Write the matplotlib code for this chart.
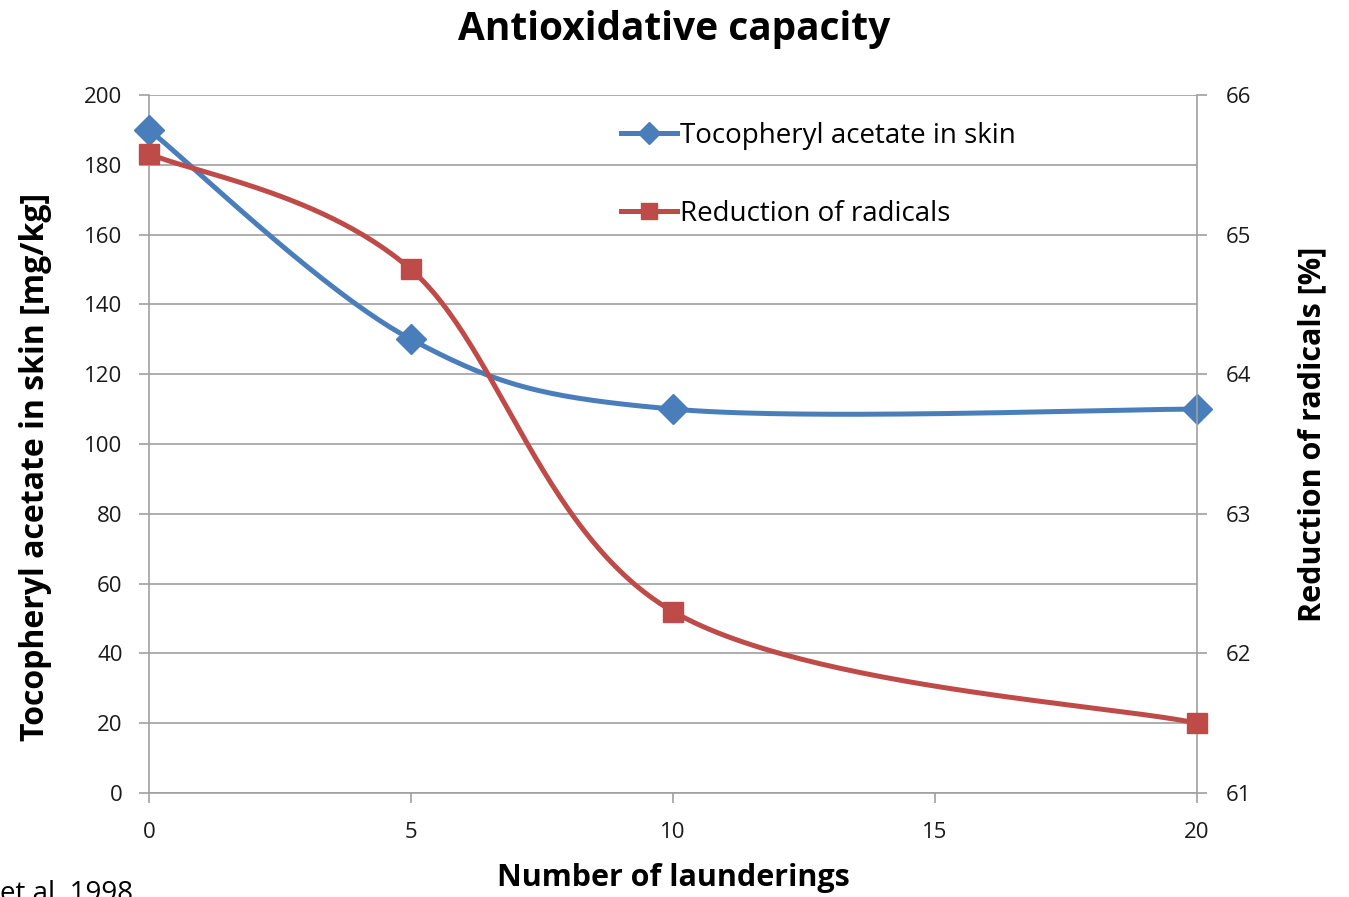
import numpy as np
import matplotlib
matplotlib.use("Agg")
import matplotlib.pyplot as plt

plt.rcParams['font.family'] = ['Open Sans', 'DejaVu Sans']

launderings = [0, 5, 10, 20]
tocopheryl = [190, 130, 110, 110]
reduction = [65.58, 64.75, 62.30, 61.50]

blue = '#4a7ebb'
red = '#be4b48'
grey = '#a0a0a0'


def smooth(x, y, n=60):
    # excel-like smoothed line: cubic bezier with catmull-rom control points
    p = np.column_stack([x, y]).astype(float)
    pts = np.vstack([p[0], p, p[-1]])
    out = []
    for i in range(1, len(pts) - 2):
        p0, p1, p2, p3 = pts[i - 1], pts[i], pts[i + 1], pts[i + 2]
        c1 = p1 + (p2 - p0) / 6
        c2 = p2 - (p3 - p1) / 6
        t = np.linspace(0, 1, n)[:, None]
        seg = ((1 - t) ** 3) * p1 + 3 * ((1 - t) ** 2) * t * c1 + 3 * (1 - t) * t ** 2 * c2 + t ** 3 * p2
        out.append(seg)
    s = np.vstack(out)
    return s[:, 0], s[:, 1]


fig = plt.figure(figsize=(13.49, 8.97), dpi=100)
ax = fig.add_axes([149 / 1349, 1 - 793 / 897, (1197 - 149) / 1349, (793 - 95) / 897])
ax2 = ax.twinx()

ax.set_xlim(0, 20)
ax.set_ylim(0, 200)
ax2.set_ylim(61, 66)
ax.set_yticks(np.arange(0, 201, 20))
ax2.set_yticks(np.arange(61, 67, 1))
ax.set_xticks([0, 5, 10, 15, 20])

ax.grid(axis='y', color=grey, linewidth=1.2)
ax.set_axisbelow(True)
for a in (ax, ax2):
    for side in ('top', 'bottom', 'left', 'right'):
        a.spines[side].set_visible(False)
ax.spines['left'].set_visible(True)
ax.spines['bottom'].set_visible(True)
ax2.spines['right'].set_visible(True)
for sp in (ax.spines['left'], ax.spines['bottom'], ax2.spines['right']):
    sp.set_color(grey)
    sp.set_linewidth(1.2)

for a in (ax, ax2):
    a.tick_params(axis='both', which='both', length=7, width=1.2, color=grey,
                  labelsize=16, labelcolor='#1a1a1a', direction='out')
ax.tick_params(axis='y', pad=12)
ax.tick_params(axis='x', pad=14)
ax2.tick_params(axis='y', pad=14)

sx, sy = smooth(launderings, tocopheryl)
ax.plot(sx, sy, color=blue, linewidth=3.6, zorder=3)
ax.plot(launderings, tocopheryl, linestyle='none', marker='D', markersize=15,
        color=blue, zorder=4, clip_on=False)

rx, ry = smooth(launderings, reduction)
ax2.plot(rx, ry, color=red, linewidth=3.6, zorder=3)
ax2.plot(launderings, reduction, linestyle='none', marker='s', markersize=15,
         color=red, zorder=4, clip_on=False)

# legend proxies
h1, = ax.plot([], [], color=blue, linewidth=3.6, marker='D', markersize=11)
h2, = ax.plot([], [], color=red, linewidth=3.6, marker='s', markersize=11)
ax2.legend([h1, h2], ['Tocopheryl acetate in skin', 'Reduction of radicals'],
           loc='upper left', bbox_to_anchor=(0.44, 0.977), frameon=False,
           fontsize=20, handlelength=2.0, handletextpad=0.1, labelspacing=1.8,
           borderaxespad=0)

ax.set_xlabel('Number of launderings', fontsize=22, fontweight='bold', labelpad=14)
ax.set_ylabel('Tocopheryl acetate in skin [mg/kg]', fontsize=23, fontweight='bold')
ax2.set_ylabel('Reduction of radicals [%]', fontsize=22, fontweight='bold')
ax.yaxis.set_label_coords(-0.093, 0.467)
ax2.yaxis.set_label_coords(1.096, 0.514)

fig.text(0.5, 0.967, 'Antioxidative capacity', ha='center', va='center',
         fontsize=28, fontweight='bold')
fig.text(0.0, -0.012, 'et al. 1998', ha='left', va='bottom', fontsize=20)

fig.savefig('out.png', dpi=100)
